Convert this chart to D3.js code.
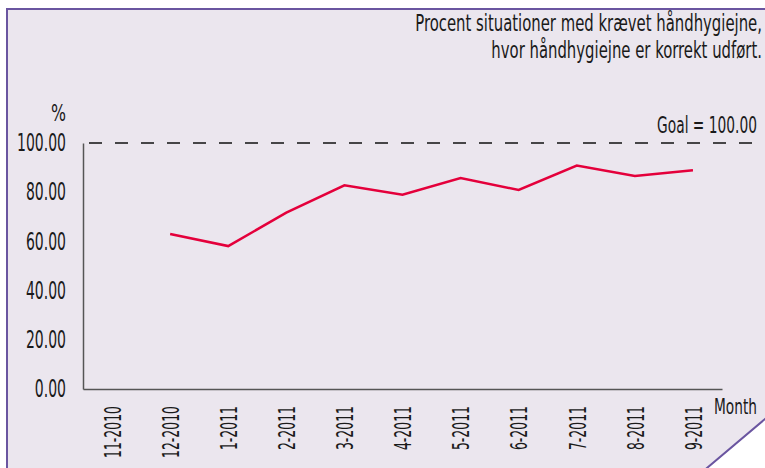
<!DOCTYPE html>
<html>
<head>
<meta charset="utf-8">
<script src="https://cdn.jsdelivr.net/npm/d3@7"></script>
<style>
  body { margin: 0; background: #fff; }
  svg text { font-family: "DejaVu Sans Condensed", "Liberation Sans Narrow", sans-serif; fill: #1a1a1a; }
</style>
</head>
<body>
<script>
let months = ["11-2010", "12-2010", "1-2011", "2-2011", "3-2011", "4-2011", "5-2011", "6-2011", "7-2011", "8-2011", "9-2011"]
let values = [null, 63.0, 58.1, 71.7, 82.8, 79.0, 85.8, 80.9, 90.8, 86.6, 88.9]
let yTicks = [0, 20, 40, 60, 80, 100]
let goal = 100
let titleLines = ["Procent situationer med krævet håndhygiejne,", "hvor håndhygiejne er korrekt udført."]

let w = 765
let h = 468
let padLeft = 83
let padRight = 722
let padTop = 143
let padBottom = 389

let svg = d3.select("body").append("svg")
  .attr("width", w)
  .attr("height", h)

// the original font is very condensed: squeeze each text of a group by the
// factor that brings one sample text to its width in the picture
let squeeze = (sel, sample, width) => {
  let probe = svg.append("text").text(sample).attr("font-size", sel.attr("font-size"))
  let k = width / probe.node().getComputedTextLength()
  probe.remove()
  sel.each(function(){
    let t = d3.select(this)
    let x = +(t.attr("x") || 0)
    let before = t.attr("transform") || ""
    t.attr("transform", before + " translate(" + x + ",0) scale(" + k + ",1) translate(" + (-x) + ",0)")
  })
}

// panel with the cut corner
svg.append("path")
  .attr("d", "M7,9 L767,9 L767,417.3 L704.6,470 L7,470 Z")
  .attr("fill", "#ebe6ee")
  .attr("stroke", "#6a55a0")
  .attr("stroke-width", 2)

let xScale = d3.scalePoint().domain(months).range([padLeft, padRight]).padding(0.5)
let yScale = d3.scaleLinear().domain([0, 100]).range([padBottom, padTop])

// axes
let yAxis = d3.axisLeft(yScale).tickValues(yTicks).tickFormat(d3.format(".2f")).tickSize(0).tickPadding(17)
let gy = svg.append("g")
  .attr("transform", "translate(" + padLeft + ",0)")
  .call(yAxis)
gy.attr("font-family", null)
gy.select(".domain").attr("stroke", "#555").attr("stroke-width", 1.5)
gy.selectAll("text").attr("font-size", 24).style("fill", "#1a1a1a")
squeeze(gy.selectAll("text"), "100.00", 49)

let xAxis = d3.axisBottom(xScale).tickSize(0)
let gx = svg.append("g")
  .attr("transform", "translate(0," + padBottom + ")")
  .call(xAxis)
gx.attr("font-family", null)
gx.select(".domain").attr("stroke", "#555").attr("stroke-width", 1.5)
gx.selectAll("text")
  .attr("font-size", 23)
  .style("fill", "#1a1a1a")
  .attr("text-anchor", "end")
  .attr("transform", "rotate(-90)")
  .attr("x", -17)
  .attr("y", 0)
  .attr("dy", "0.36em")
squeeze(gx.selectAll("text"), "12-2010", 52)

// goal line
svg.append("line")
  .attr("x1", padLeft + 6)
  .attr("x2", 757)
  .attr("y1", yScale(goal))
  .attr("y2", yScale(goal))
  .attr("stroke", "#111")
  .attr("stroke-width", 1.3)
  .attr("stroke-dasharray", "13,13")

// the series
let line = d3.line()
  .defined(d => d.v != null)
  .x(d => xScale(d.m))
  .y(d => yScale(d.v))

svg.append("path")
  .datum(months.map((m, i) => ({m: m, v: values[i]})))
  .attr("d", line)
  .attr("fill", "none")
  .attr("stroke", "#e4003b")
  .attr("stroke-width", 2.5)

// texts
let title = svg.append("g").selectAll("text")
  .data(titleLines)
  .enter()
  .append("text")
  .text(d => d)
  .attr("x", 762)
  .attr("y", (d, i) => 31 + i * 27)
  .attr("text-anchor", "end")
  .attr("font-size", 23)
squeeze(title, titleLines[0], 347)

let goalText = svg.append("text")
  .text("Goal = " + d3.format(".2f")(goal))
  .attr("x", 757)
  .attr("y", 133)
  .attr("text-anchor", "end")
  .attr("font-size", 23)
squeeze(goalText, "Goal = 100.00", 100)

let pct = svg.append("text")
  .text("%")
  .attr("x", 66)
  .attr("y", 121)
  .attr("text-anchor", "end")
  .attr("font-size", 23)
squeeze(pct, "%", 15)

let monthText = svg.append("text")
  .text("Month")
  .attr("x", 757)
  .attr("y", 414)
  .attr("text-anchor", "end")
  .attr("font-size", 22)
squeeze(monthText, "Month", 43)
</script>
</body>
</html>
